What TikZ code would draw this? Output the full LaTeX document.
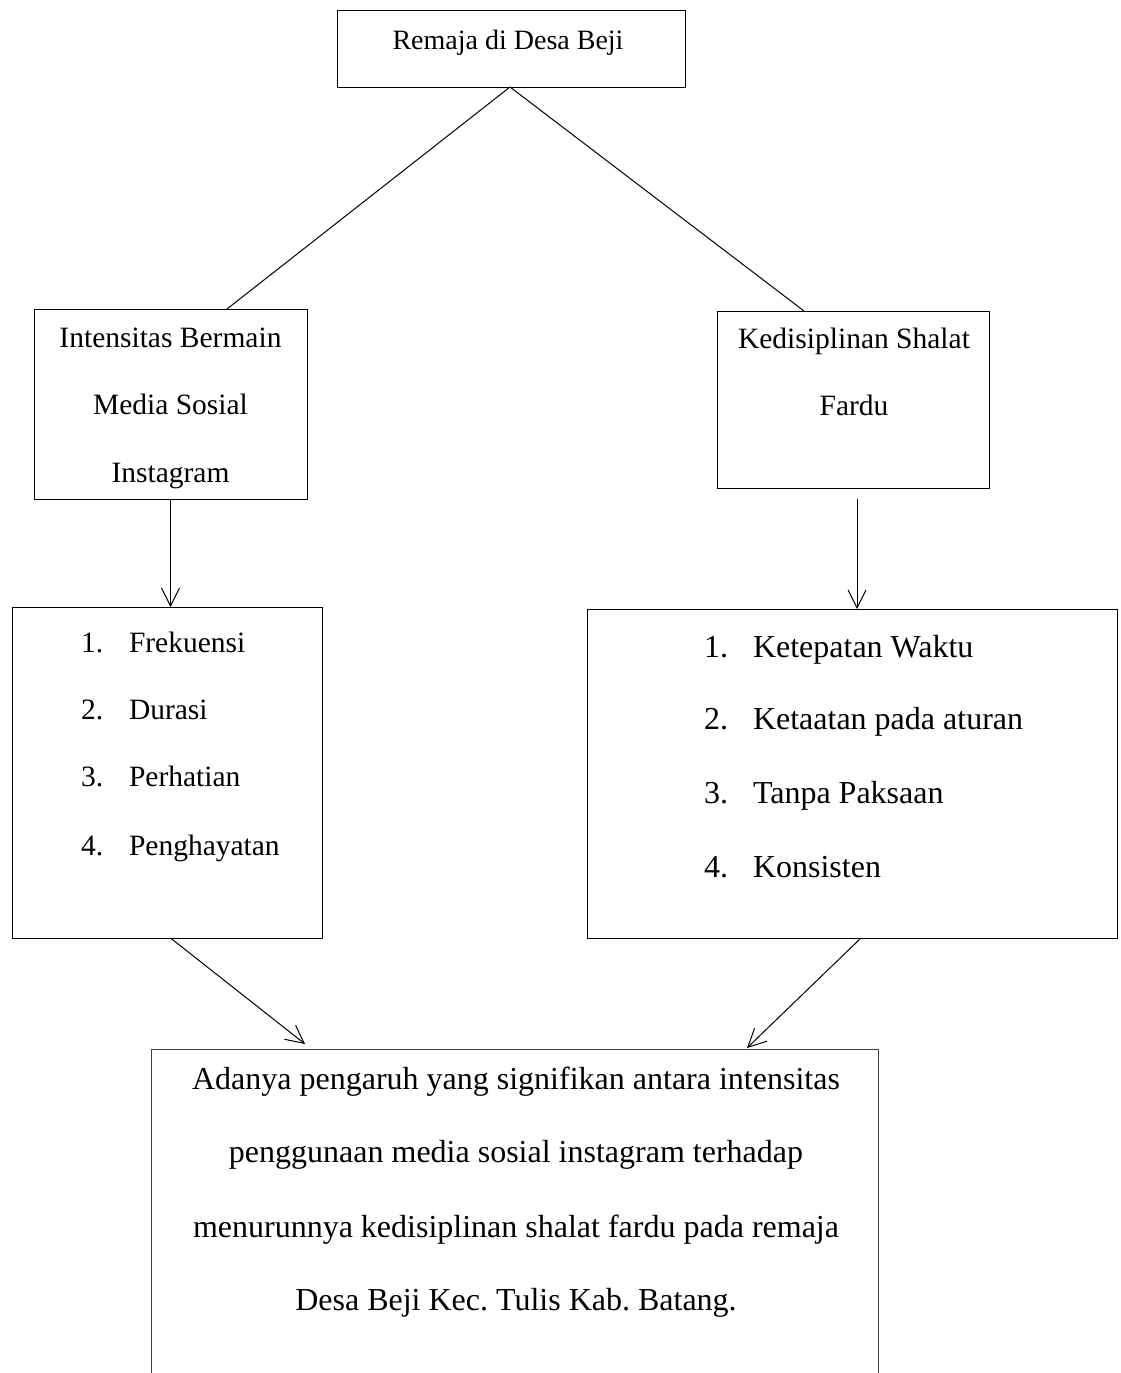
\documentclass[tikz,border=0pt]{standalone}
\usepackage{fontspec}
\setmainfont{Liberation Serif}
\usetikzlibrary{arrows.meta}
\frenchspacing
\tikzset{
  boxnode/.style={draw=black, line width=1pt, inner sep=0pt, outer sep=0pt},
  conn/.style={draw=black, line width=1pt},
  arr/.style={conn, -{Straight Barb[length=18pt,width=18pt,line width=1pt]}},
  txt/.style={inner sep=0pt, outer sep=0pt, anchor=base},
  ltxt/.style={inner sep=0pt, outer sep=0pt, anchor=base west},
  fa/.style={font=\fontsize{28}{34}\selectfont},
  fb/.style={font=\fontsize{29.5}{35}\selectfont},
  fc/.style={font=\fontsize{32}{38}\selectfont}
}
\begin{document}
\begin{tikzpicture}[x=1pt,y=-1pt]
\useasboundingbox[fill=white] (0,0) rectangle (1120,1373);

% boxes
\node[boxnode, minimum width=348pt, minimum height=77pt] (top) at (511,48.5) {};
\node[boxnode, minimum width=273pt, minimum height=190pt] (lb1) at (170.5,404) {};
\node[boxnode, minimum width=272pt, minimum height=177pt] (rb1) at (853,399.5) {};
\node[boxnode, minimum width=310pt, minimum height=331pt] (lb2) at (167.5,772.5) {};
\node[boxnode, minimum width=530pt, minimum height=329pt] (rb2) at (852,773.5) {};
\node[inner sep=0pt, outer sep=0pt, minimum width=727pt, minimum height=324pt] (bot) at (514.5,1211) {};
\draw[conn, draw=black!75] (bot.south west) -- (bot.north west) -- (bot.north east) -- (bot.south east);

% texts
\node[txt, fa] (t0) at (508,49) {Remaja di Desa Beji};

\node[txt, fb] (l1a) at (170.5,347) {Intensitas Bermain};
\node[txt, fb] (l1b) at (170.5,414) {Media Sosial};
\node[txt, fb] (l1c) at (170.5,482) {Instagram};

\node[txt, fb] (r1a) at (854,348) {Kedisiplinan Shalat};
\node[txt, fb] (r1b) at (854,415) {Fardu};

\node[ltxt, fb] (ln1) at (81,652) {1.};
\node[ltxt, fb] (lt1) at (129,652) {Frekuensi};
\node[ltxt, fb] (ln2) at (81,719) {2.};
\node[ltxt, fb] (lt2) at (129,719) {Durasi};
\node[ltxt, fb] (ln3) at (81,786) {3.};
\node[ltxt, fb] (lt3) at (129,786) {Perhatian};
\node[ltxt, fb] (ln4) at (81,855) {4.};
\node[ltxt, fb] (lt4) at (129,855) {Penghayatan};

\node[ltxt, fc] (rn1) at (704,657) {1.};
\node[ltxt, fc] (rt1) at (753,657) {Ketepatan Waktu};
\node[ltxt, fc] (rn2) at (704,729) {2.};
\node[ltxt, fc] (rt2) at (753,729) {Ketaatan pada aturan};
\node[ltxt, fc] (rn3) at (704,803) {3.};
\node[ltxt, fc] (rt3) at (753,803) {Tanpa Paksaan};
\node[ltxt, fc] (rn4) at (704,877) {4.};
\node[ltxt, fc] (rt4) at (753,877) {Konsisten};

\node[txt, fc] (b1) at (516,1089) {Adanya pengaruh yang signifikan antara intensitas};
\node[txt, fc] (b2) at (516,1162) {penggunaan media sosial instagram terhadap};
\node[txt, fc] (b3) at (516,1237) {menurunnya kedisiplinan shalat fardu pada remaja};
\node[txt, fc] (b4) at (516,1310) {Desa Beji Kec. Tulis Kab. Batang.};

% connectors
\draw[conn] ([xshift=-1pt]top.south) -- ([xshift=56.5pt]lb1.north);
\draw[conn] ([xshift=-1pt]top.south) -- ([xshift=-49pt]rb1.north);

\draw[arr] (lb1.south) -- (lb1.south |- lb2.north);
\coordinate (rs) at ([xshift=4pt,yshift=-11pt]rb1.south);
\draw[arr] (rs) -- (rs |- rb2.north);

\draw[arr] ([xshift=3pt]lb2.south) -- ([xshift=-209.5pt,yshift=5pt]bot.north);
\draw[arr] ([xshift=9pt]rb2.south) -- ([xshift=232.5pt,yshift=1pt]bot.north);
\end{tikzpicture}
\end{document}
